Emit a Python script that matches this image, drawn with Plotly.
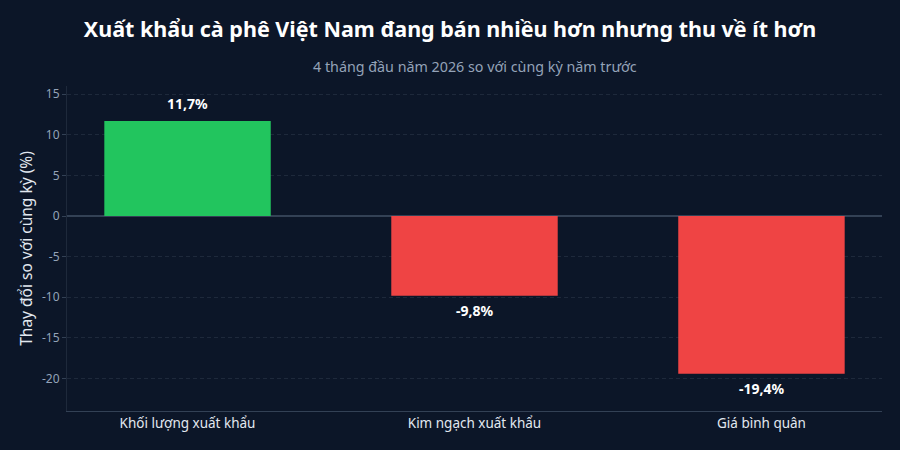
import plotly.graph_objects as go

# Dữ liệu: 4 tháng đầu năm 2026 so với cùng kỳ
categories = ["Khối lượng xuất khẩu", "Kim ngạch xuất khẩu", "Giá bình quân"]
changes = [11.7, -9.8, -19.4]
labels = ["11,7%", "-9,8%", "-19,4%"]
ytick_vals = [-20, -15, -10, -5, 0, 5, 10, 15]
ytick_text = ["-20", "-15", "-10", "-5", "0", "5", "10", "15"]

bg = "#0c1628"
colors = ["#22c55e" if v > 0 else "#ef4444" for v in changes]

fig = go.Figure(
    go.Bar(
        x=categories,
        y=changes,
        marker=dict(color=colors, line=dict(width=0)),
        width=0.58,
        hoverinfo="skip",
    )
)

# nhãn giá trị trên/dưới mỗi cột
for cat, v, lab in zip(categories, changes, labels):
    fig.add_annotation(
        x=cat,
        y=v,
        text="<b>%s</b>" % lab,
        showarrow=False,
        yanchor="bottom" if v > 0 else "top",
        yshift=6 if v > 0 else -3,
        font=dict(size=14, color="#ffffff", family="Noto Sans"),
    )

fig.add_annotation(
    text="4 tháng đầu năm 2026 so với cùng kỳ năm trước",
    xref="paper",
    yref="paper",
    x=0.5,
    y=1.0,
    yshift=20,
    yanchor="middle",
    showarrow=False,
    font=dict(size=14.3, color="#94a3b8", family="Noto Sans"),
)

fig.update_layout(
    width=900,
    height=450,
    paper_bgcolor=bg,
    plot_bgcolor=bg,
    font=dict(family="Noto Sans", color="#cbd5e1"),
    margin=dict(l=67, r=18, t=86, b=39),
    showlegend=False,
    title=dict(
        text="<b>Xuất khẩu cà phê Việt Nam đang bán nhiều hơn nhưng thu về ít hơn</b>",
        x=0.5,
        xanchor="center",
        y=0.935,
        yanchor="middle",
        font=dict(size=21.5, color="#ffffff", family="Noto Sans"),
    ),
)

fig.update_xaxes(
    range=[-0.42, 2.42],
    showline=True,
    linecolor="#334155",
    linewidth=1,
    showgrid=False,
    tickfont=dict(size=13.5, color="#e2e8f0"),
    ticks="",
)

fig.update_yaxes(
    range=[-24, 16],
    tickvals=ytick_vals,
    ticktext=ytick_text,
    showline=True,
    linecolor="#1e293b",
    linewidth=1,
    gridcolor="#1e293b",
    griddash="4px,3px",
    zeroline=True,
    zerolinecolor="#334155",
    zerolinewidth=1.5,
    ticks="outside",
    ticklen=4,
    tickcolor="#334155",
    tickfont=dict(size=12, color="#94a3b8"),
    title=dict(text="Thay đổi so với cùng kỳ (%)", font=dict(size=15.5, color="#e2e8f0"), standoff=5),
)

# bỏ lề trắng mặc định của trang
fig.write_html(
    "out.html",
    config={"displayModeBar": False},
    post_script="document.body.style.margin='0';document.body.style.background='%s';" % bg,
)
